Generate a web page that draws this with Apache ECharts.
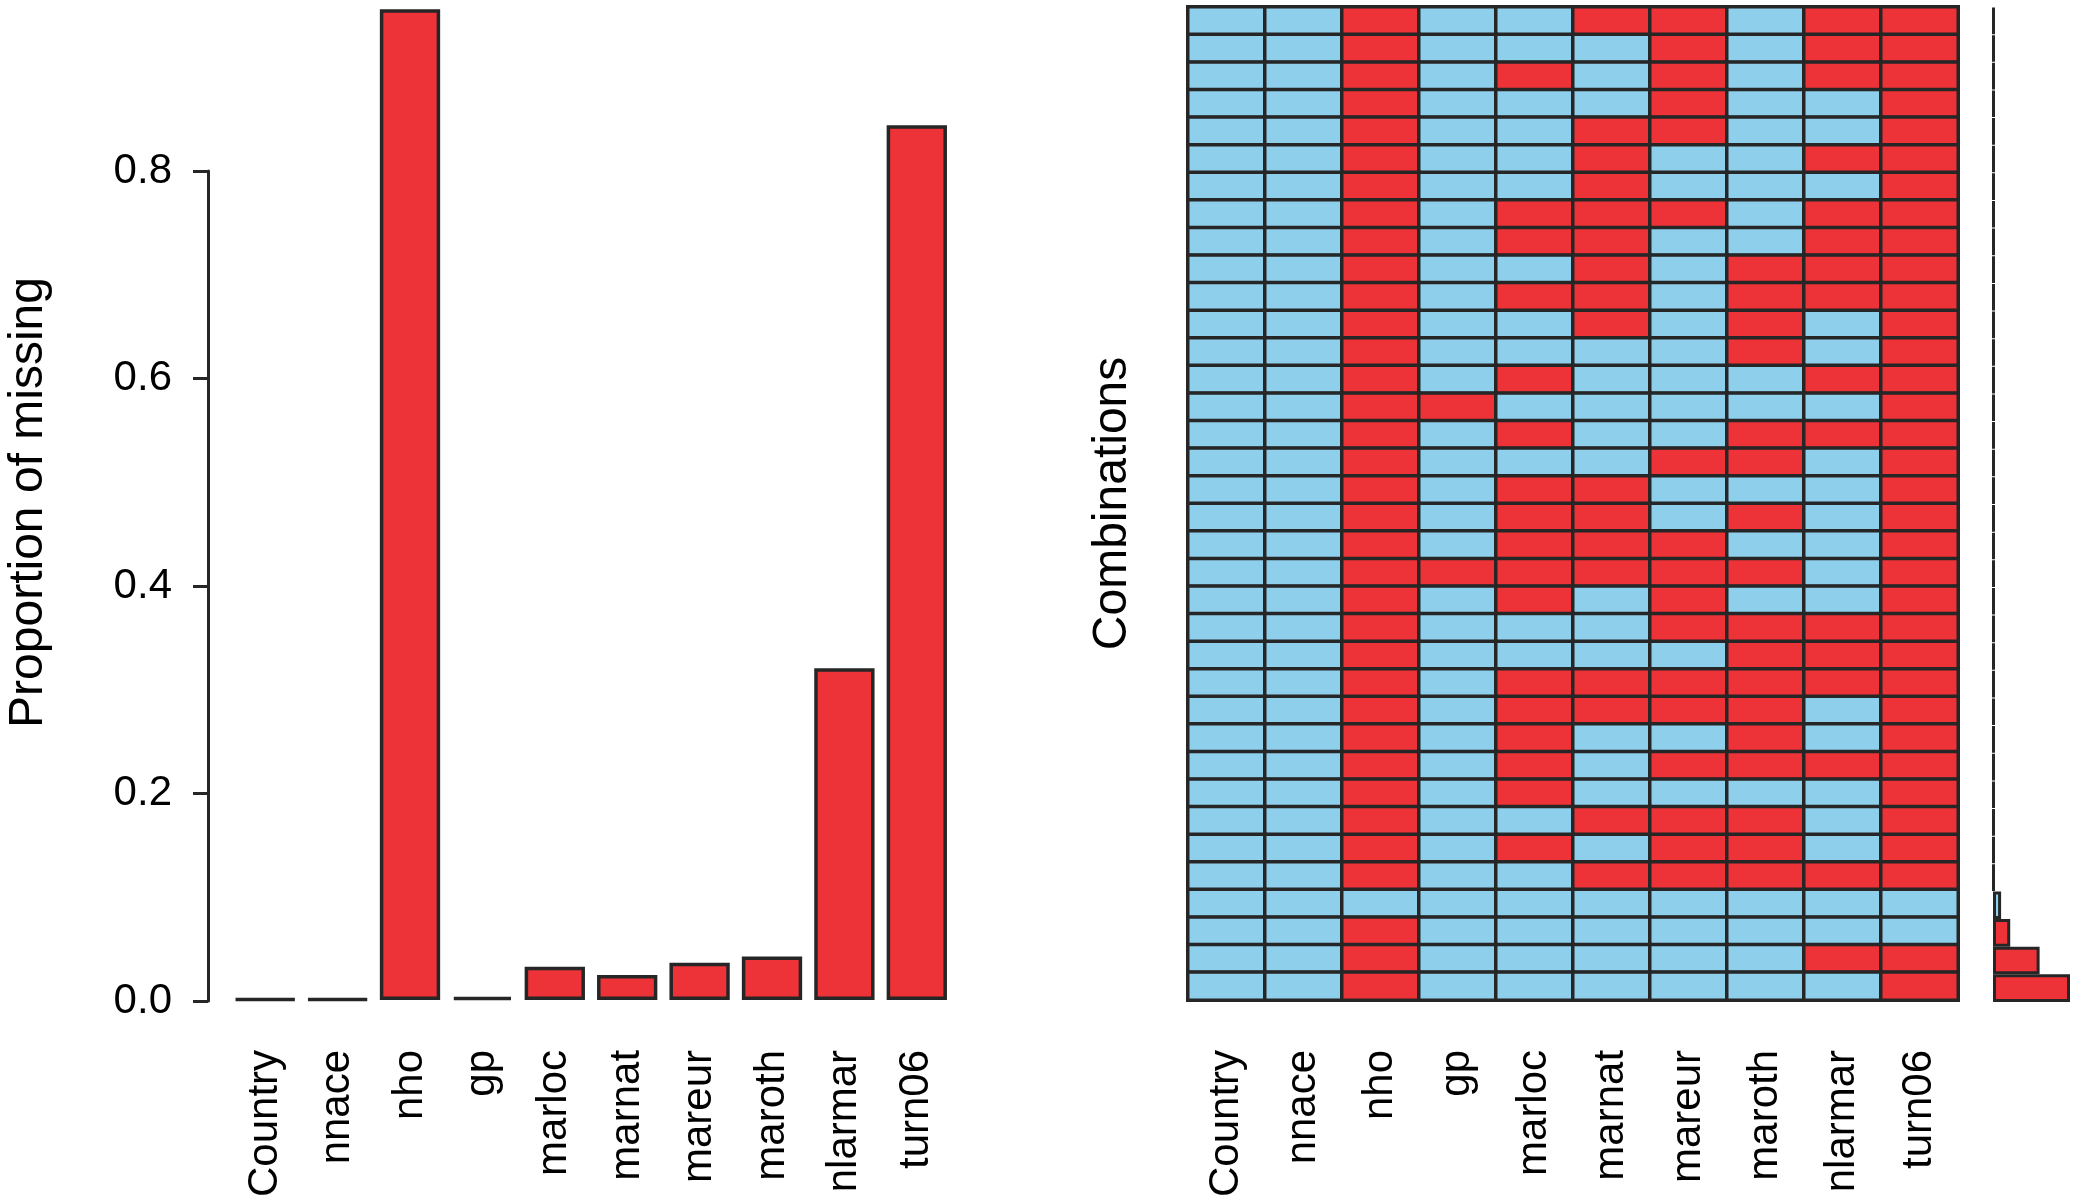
<!DOCTYPE html>
<html>
<head>
<meta charset="utf-8">
<script src="https://cdn.jsdelivr.net/npm/echarts@6/dist/echarts.min.js"></script>
<style>
html,body{margin:0;padding:0;background:#fff;}
#chart{width:2076px;height:1200px;}
</style>
</head>
<body>
<div id="chart"></div>
<script>
const variables = ['Country','nnace','nho','gp','marloc','marnat','mareur','maroth','nlarmar','turn06'];
const propMissing = [0, 0, 0.956, 0.003, 0.032, 0.024, 0.036, 0.042, 0.320, 0.844];
const yTickValues = [0, 0.2, 0.4, 0.6, 0.8];
// combination patterns, top row first (1 = missing)
const combinations = [
  '0010011011','0010001011','0010101011','0010001001','0010011001','0010010011',
  '0010010001','0010111011','0010110011','0010010111','0010110111','0010010101',
  '0010000101','0010100011','0011000001','0010100111','0010001101','0010110001',
  '0010110101','0010111001','0011111101','0010101001','0010001111','0010000111',
  '0010111111','0010111101','0010100101','0010101111','0010100001','0010011101',
  '0010101101','0010011111','0000000000','0010000000','0010000011','0010000001'
];
const combinationFreq = [
  1,1,1,1,1,1,1,1,1,1,1,1,1,1,1,1,1,1,
  1,1,1,1,1,1,1,1,1,1,1,1,1,1,8,17,46,76
];

const RED = '#EE3338', BLUE = '#8ECFEC', EDGE = '#262626';
const FONT = 'Liberation Sans, Arial, Helvetica, sans-serif';

const rowIdx = combinations.map((_, i) => 'r' + i);
const heatData = [];
combinations.forEach((c, r) => {
  for (let v = 0; v < variables.length; v++) heatData.push([v, r, Number(c[v])]);
});
const histData = combinationFreq.map((f, i) => ({
  value: f,
  itemStyle: { color: combinations[i].indexOf('1') >= 0 ? RED : BLUE }
}));

const chart = echarts.init(document.getElementById('chart'));
chart.setOption({
  backgroundColor: '#fff',
  animation: false,
  textStyle: { fontFamily: FONT },
  grid: [
    { left: 229, right: 2076 - 953, top: 5, bottom: 199 },        // bars
    { left: 208, width: 10, top: 171, bottom: 199 },               // left axis
    { left: 1188, right: 2076 - 1958, top: 7, bottom: 198, show: true, borderColor: EDGE, borderWidth: 4, backgroundColor: 'transparent' }, // heatmap
    { left: 1993, width: 77, top: 7, bottom: 198 }                  // histogram
  ],
  xAxis: [
    { gridIndex: 0, type: 'category', data: variables,
      axisLine: { show: false }, axisTick: { show: false },
      axisLabel: { rotate: 90, margin: 50, fontSize: 42, color: '#000', fontFamily: FONT, interval: 0 } },
    { gridIndex: 1, type: 'value', show: false },
    { gridIndex: 2, type: 'category', data: variables,
      axisLine: { show: false }, axisTick: { show: false }, splitArea: { show: false },
      axisLabel: { rotate: 90, margin: 50, fontSize: 42, color: '#000', fontFamily: FONT, interval: 0 } },
    { gridIndex: 3, type: 'value', min: 0, max: 76, show: false }
  ],
  yAxis: [
    { gridIndex: 0, type: 'value', min: 0, max: 0.96,
      axisLine: { show: false }, axisTick: { show: false }, axisLabel: { show: false }, splitLine: { show: false },
      name: 'Proportion of missing', nameLocation: 'middle', nameGap: 176,
      nameTextStyle: { fontSize: 48, color: '#000', fontFamily: FONT } },
    { gridIndex: 1, type: 'value', min: yTickValues[0], max: yTickValues[yTickValues.length - 1], interval: 0.2,
      axisLine: { show: true, lineStyle: { color: EDGE, width: 3 } },
      axisTick: { show: true, length: 15, lineStyle: { color: EDGE, width: 3 } },
      splitLine: { show: false },
      axisLabel: { margin: 36, fontSize: 42, color: '#000', fontFamily: FONT,
        formatter: v => v.toFixed(1) } },
    { gridIndex: 2, type: 'category', data: rowIdx, inverse: true,
      axisLine: { show: false }, axisTick: { show: false }, axisLabel: { show: false }, splitArea: { show: false },
      name: 'Combinations', nameLocation: 'middle', nameGap: 51,
      nameTextStyle: { fontSize: 48, color: '#000', fontFamily: FONT } },
    { gridIndex: 3, type: 'category', data: rowIdx, inverse: true, show: false }
  ],
  visualMap: {
    show: false, type: 'piecewise', seriesIndex: 1, dimension: 2,
    pieces: [ { value: 0, color: BLUE }, { value: 1, color: RED } ]
  },
  series: [
    { type: 'bar', xAxisIndex: 0, yAxisIndex: 0, data: propMissing,
      barCategoryGap: '16.7%', barMinHeight: 1,
      itemStyle: { color: RED, borderColor: EDGE, borderWidth: 3.5 } },
    { type: 'heatmap', xAxisIndex: 2, yAxisIndex: 2, data: heatData,
      itemStyle: { borderColor: EDGE, borderWidth: 3.5 },
      emphasis: { disabled: true } },
    { type: 'bar', xAxisIndex: 3, yAxisIndex: 3, data: histData,
      barCategoryGap: 0, barMinHeight: 1,
      itemStyle: { borderColor: EDGE, borderWidth: 3 } }
  ]
});
</script>
</body>
</html>
